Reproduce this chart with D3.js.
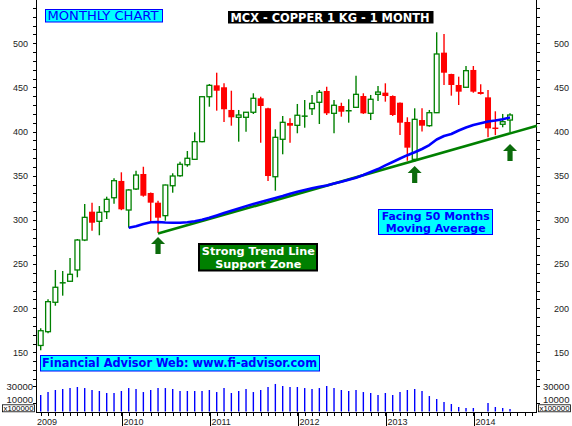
<!DOCTYPE html>
<html><head><meta charset="utf-8">
<script src="https://cdn.jsdelivr.net/npm/d3@7"></script>
<style>body{margin:0;background:#fff} svg{display:block}</style>
</head><body><svg id="c" width="572" height="426"></svg>
<script>
// ---- data (monthly candles, Feb 2009 .. Jun 2014) ----
const opens  = [157.8,173.4,206.7,228.0,230.5,243.3,277.2,309.3,298.4,309.3,325.1,344.1,311.2,335.0,352.0,330.5,319.5,304.8,338.7,350.0,362.5,368.6,388.6,439.5,452.4,450.2,424.5,416.2,416.2,421.9,437.7,426.4,348.9,391.3,409.7,407.1,417.0,425.9,433.2,446.0,420.7,429.0,423.2,427.5,440.3,420.7,442.2,444.1,440.3,432.7,410.9,368.6,413.1,406.7,421.4,489.4,465.2,452.8,450.2,469.8,444.8,438.8,404.0,408.3,413.1];
const highs  = [177.2,210.1,243.3,242.1,256.9,278.4,318.0,319.5,315.7,326.3,347.1,353.9,334.7,355.7,360.2,331.0,321.7,340.0,352.8,365.9,378.0,399.2,440.0,453.9,466.7,454.7,446.3,424.5,422.0,443.4,439.5,427.0,402.6,417.7,415.1,431.3,435.8,441.5,447.1,450.8,435.8,432.7,436.6,463.3,443.4,441.5,451.6,454.7,441.0,433.0,416.2,426.4,426.4,424.5,512.5,510.5,465.5,462.2,474.3,474.3,453.6,447.1,423.0,420.0,420.7];
const lows   = [152.4,171.6,202.8,214.2,230.0,235.0,276.0,287.8,282.6,301.0,318.3,311.0,291.2,334.0,326.3,298.0,285.5,299.1,330.8,349.0,360.2,368.0,388.0,428.2,423.7,410.9,406.7,388.6,399.9,419.9,387.4,344.1,333.1,374.3,387.4,398.1,404.4,418.8,408.6,418.8,398.1,416.9,410.1,427.0,420.0,413.1,434.7,433.9,417.7,396.1,367.0,366.0,400.0,405.5,421.0,452.8,440.7,430.1,450.0,444.0,442.0,393.5,396.0,404.9,398.8];
const closes = [174.5,207.4,223.7,229.5,238.4,277.2,302.9,296.8,308.6,323.3,344.4,312.0,333.9,350.8,327.4,319.5,302.5,339.5,349.7,363.0,369.8,388.6,439.5,452.4,446.3,425.3,416.2,418.8,421.9,437.7,429.0,349.7,393.5,410.5,406.7,418.5,418.0,432.0,444.5,420.7,429.8,422.5,424.0,442.2,420.7,436.6,444.8,440.3,418.8,410.1,381.8,413.9,406.7,421.4,487.9,466.7,452.8,445.2,469.0,445.2,442.6,403.7,403.5,411.2,418.8];
const volumes = [19400,22900,25300,26500,27600,28800,27600,25300,24100,21800,21800,24100,27600,26500,22900,25300,27600,27600,26500,24100,24100,24100,24100,25300,22900,27600,21800,24100,26500,22900,25300,28800,32400,30000,28800,28800,27600,26500,27600,30000,27600,25300,24100,25300,22900,21800,19400,21800,19400,22900,25300,26500,24100,18200,14700,11200,8800,5300,4100,4100,0,10000,5300,4100,2900];
// 50-month moving average, starting at candle index 12 (Feb 2010)
const maStart = 12;
const ma50 = [291.2,292.8,295.4,297.4,297.6,297.1,296.8,296.8,297.3,298.5,300.1,302.4,305.0,307.8,310.4,313.0,315.6,318.0,320.3,322.5,324.8,327.1,329.6,331.8,333.9,335.8,337.5,339.0,341.1,343.1,345.4,347.7,350.8,354.2,357.6,361.8,365.6,369.5,373.3,376.6,380.3,384.8,391.1,395.0,397.3,401.2,404.6,407.5,409.5,411.4,412.6,414.0,416.0];
// trend line: month index since Jan 2009, price
const trendLine = [{m: 17, v: 284.5}, {m: 68.68, v: 406.6}];
// support arrows: month index, price at arrow tip
const arrows = [{m: 17, v: 280.6}, {m: 52, v: 361.0}, {m: 65, v: 386.0}];
const priceLabels = [150, 200, 250, 300, 350, 400, 450, 500];
const volLabels = [10000, 30000];
const yearLabels = ["2009", "2010", "2011", "2012", "2013", "2014"];
const yearStartM = [1, 12, 24, 36, 48, 60];

const startDate = new Date(2009, 1, 1);
const months = d3.range(opens.length).map(i => d3.timeMonth.offset(startDate, i));
const candles = months.map((d, i) => ({
  date: d, m: (d.getFullYear() - 2009) * 12 + d.getMonth(),
  o: opens[i], h: highs[i], l: lows[i], c: closes[i], vol: volumes[i]
}));

const svg = d3.select("#c");
const x = d3.scaleLinear().domain([0.359, 68.68]).range([36, 537]);
const y = d3.scaleLinear().domain([150, 500]).range([352.35, 43.3]);
const yv = d3.scaleLinear().domain([0, 30000]).range([411.5, 386]);
const GREEN = "#008000", RED = "#ff0000", BLUE = "#0000ff";
const axisFont = "Liberation Sans, Arial, sans-serif";

// ---- price axes ----
const tickVals = d3.range(120, 541, 10);
const fmt = d => (priceLabels.includes(d) ? d : "");
const gl = svg.append("g").attr("transform", "translate(36,0)")
  .call(d3.axisLeft(y).tickValues(tickVals).tickSize(3).tickPadding(5).tickFormat(fmt));
const gr = svg.append("g").attr("transform", "translate(537,0)")
  .call(d3.axisRight(y).tickValues(tickVals).tickSize(3).tickPadding(14).tickFormat(fmt));
// ---- volume axes ----
const vl = svg.append("g").attr("transform", "translate(36,0)")
  .call(d3.axisLeft(yv).tickValues(volLabels).tickSize(3).tickPadding(0).tickFormat(d3.format("d")));
const vr = svg.append("g").attr("transform", "translate(537,0)")
  .call(d3.axisRight(yv).tickValues(volLabels).tickSize(3).tickPadding(3).tickFormat(d3.format("d")));
[gl, gr, vl, vr].forEach(g => {
  g.select(".domain").remove();
  g.selectAll("line").attr("stroke", "#000").attr("shape-rendering", "crispEdges");
  g.selectAll("text").attr("fill", "#222").style("font-family", axisFont).style("font-size", "9px");
});
[vl, vr].forEach(g => {
  g.selectAll("text").style("font-size", "9.5px");
  g.selectAll(".tick").filter(d => d === 10000).select("text").attr("y", -4);
});

// frame lines
svg.append("line").attr("x1", 36.5).attr("x2", 36.5).attr("y1", 0).attr("y2", 412).attr("stroke", "#000");
svg.append("line").attr("x1", 536.5).attr("x2", 536.5).attr("y1", 0).attr("y2", 412).attr("stroke", "#000");
svg.append("line").attr("x1", 36).attr("x2", 537).attr("y1", 412.5).attr("y2", 412.5).attr("stroke", "#000");

// x100000 boxes
[[2, 404.8], [538, 404.8]].forEach(([bx, by]) => {
  svg.append("rect").attr("x", bx + 0.5).attr("y", by).attr("width", 32).attr("height", 7)
    .attr("fill", "#fff").attr("stroke", "#000").attr("stroke-width", 0.8);
  svg.append("text").attr("x", bx + 1.5).attr("y", by + 5.9).text("x100000")
    .attr("textLength", 30).attr("lengthAdjust", "spacingAndGlyphs")
    .style("font-family", axisFont).style("font-size", "6.5px").attr("fill", "#000");
});

// month ticks & year lines
const mt = d3.range(1, 69);
svg.append("g").selectAll("line").data(mt).join("line")
  .attr("x1", d => Math.round(x(d)) + 0.5).attr("x2", d => Math.round(x(d)) + 0.5)
  .attr("y1", 412).attr("y2", 416).attr("stroke", "#000");
svg.append("g").selectAll("line").data(yearStartM.slice(1)).join("line")
  .attr("x1", d => Math.round(x(d)) + 1.5).attr("x2", d => Math.round(x(d)) + 1.5)
  .attr("y1", 412).attr("y2", 426).attr("stroke", "#000");
svg.append("g").selectAll("text").data(yearLabels).join("text")
  .attr("x", (d, i) => i === 0 ? 37 : Math.round(x(yearStartM[i])) + 2.5)
  .attr("y", 424.5).text(d => d)
  .style("font-family", axisFont).style("font-size", "9px").attr("fill", "#222");

// ---- volume bars ----
svg.append("g").selectAll("line").data(candles.filter(d => d.vol > 0)).join("line")
  .attr("x1", d => x(d.m)).attr("x2", d => x(d.m))
  .attr("y1", yv(0)).attr("y2", d => yv(d.vol))
  .attr("stroke", BLUE).attr("stroke-width", 1.4);

// ---- candles ----
const cg = svg.append("g");
candles.forEach(d => {
  const up = d.c >= d.o;
  const col = up ? GREEN : RED;
  const cx = x(d.m);
  cg.append("line").attr("x1", cx).attr("x2", cx).attr("y1", y(d.h)).attr("y2", y(d.l))
    .attr("stroke", col).attr("stroke-width", 1.4);
  const top = y(Math.max(d.o, d.c)), bot = y(Math.min(d.o, d.c));
  if (bot - top < 1.5) {
    cg.append("line").attr("x1", cx - 3).attr("x2", cx + 3).attr("y1", (top + bot) / 2).attr("y2", (top + bot) / 2)
      .attr("stroke", col).attr("stroke-width", 1.5);
  } else if (up) {
    cg.append("rect").attr("x", cx - 2.4).attr("y", top).attr("width", 4.8).attr("height", bot - top)
      .attr("fill", "#fff").attr("stroke", col).attr("stroke-width", 1.3);
  } else {
    cg.append("rect").attr("x", cx - 3).attr("y", top).attr("width", 6).attr("height", bot - top)
      .attr("fill", col);
  }
});

// ---- trend line & moving average ----
const ln = d3.line().x(d => x(d.m)).y(d => y(d.v));
svg.append("path").attr("d", ln(trendLine)).attr("fill", "none").attr("stroke", GREEN).attr("stroke-width", 2.6);
const maPts = ma50.map((v, k) => ({m: candles[maStart + k].m, v}));
svg.append("path").attr("d", ln(maPts)).attr("fill", "none").attr("stroke", BLUE).attr("stroke-width", 2.6)
  .attr("stroke-linejoin", "round");

// ---- arrows ----
svg.append("g").selectAll("path").data(arrows).join("path")
  .attr("d", d => {
    const cx = x(d.m), t = y(d.v);
    return `M${cx},${t} L${cx + 7},${t + 7} L${cx + 2.6},${t + 7} L${cx + 2.6},${t + 17} L${cx - 2.6},${t + 17} L${cx - 2.6},${t + 7} L${cx - 7},${t + 7} Z`;
  })
  .attr("fill", "#0b6b0b");

// ---- annotation boxes ----
const boxFont = "DejaVu Sans, Verdana, sans-serif";
function box(bx, by, bw, bh, fill, stroke, sw) {
  svg.append("rect").attr("x", bx).attr("y", by).attr("width", bw).attr("height", bh)
    .attr("fill", fill).attr("stroke", stroke).attr("stroke-width", sw);
}
function txt(tx, ty, s, size, col, weight, len, anchor) {
  svg.append("text").attr("x", tx).attr("y", ty).text(s)
    .attr("text-anchor", anchor || "start")
    .attr("textLength", len).attr("lengthAdjust", "spacingAndGlyphs")
    .style("font-family", boxFont).style("font-size", size + "px").style("font-weight", weight)
    .attr("fill", col);
}
box(45.5, 9.5, 117, 12.5, "#00ffff", BLUE, 1);
txt(47.5, 20.3, "MONTHLY CHART", 12.5, BLUE, "normal", 111);

box(228, 11, 205.5, 12.5, "#000", "none", 0);
txt(230.5, 21.6, "MCX - COPPER 1 KG - 1 MONTH", 11.5, "#fff", "bold", 199);

box(199, 244, 118, 26.5, GREEN, "#000", 2);
txt(258.3, 255.4, "Strong Trend Line", 11, "#fff", "bold", 113, "middle");
txt(258.3, 267.6, "Support Zone", 11, "#fff", "bold", 86, "middle");

box(378.5, 209.5, 114, 25, "#00ffff", BLUE, 1);
txt(435.7, 219.6, "Facing 50 Months", 11, BLUE, "bold", 108, "middle");
txt(435.7, 231.6, "Moving Average", 11, BLUE, "bold", 100, "middle");

box(40.5, 355.5, 279, 15.5, "#00ffff", BLUE, 1);
txt(42, 367.3, "Financial Advisor Web: www.fi-advisor.com", 12, BLUE, "bold", 275);
</script></body></html>
